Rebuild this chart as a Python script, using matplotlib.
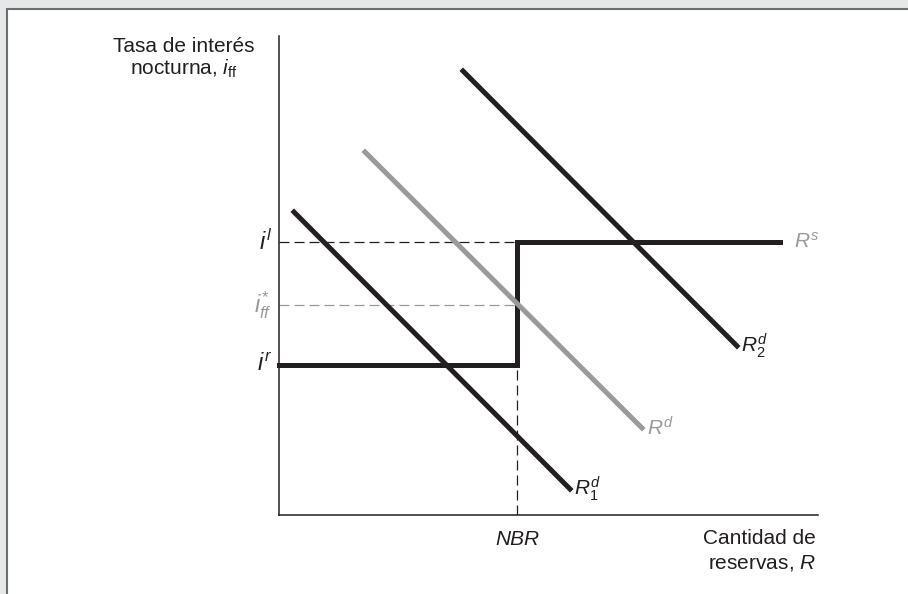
import matplotlib.pyplot as plt
from matplotlib.patches import Rectangle

plt.rcParams["font.family"] = ["Liberation Sans", "DejaVu Sans"]
plt.rcParams["mathtext.fontset"] = "custom"
plt.rcParams["mathtext.rm"] = "Liberation Sans"
plt.rcParams["mathtext.it"] = "Liberation Sans:italic"
plt.rcParams["mathtext.sf"] = "Liberation Sans"

# levels (arbitrary units)
nbr = 23.8
i_l = 27.3
i_r = 15.0
i_ff = 21.0
rs_end = 50.1

# reserve supply: step
rs_x = [0, nbr, nbr, rs_end]
rs_y = [i_r, i_r, i_l, i_l]

# demand curves (start, end)
r1_x = [1.5, 29.1]
r1_y = [30.3, 2.6]
rd_x = [8.6, 36.3]
rd_y = [36.3, 8.7]
r2_x = [18.4, 45.8]
r2_y = [44.4, 16.9]

dark = "#231f20"
grey = "#999a9c"

fig = plt.figure(figsize=(9.08, 5.94), dpi=100, facecolor="#e6e7e8")
fig.patches.append(Rectangle((7 / 908, -0.05), 1.0, 1 - 9 / 594 + 0.05,
                             transform=fig.transFigure, facecolor="white",
                             edgecolor="#6d6e71", linewidth=1.5, zorder=-1))

ax = fig.add_axes([279 / 908, 79 / 594, 539 / 908, 479 / 594])
ax.set_zorder(2)
ax.set_facecolor("none")
ax.set_xlim(0, 53.9)
ax.set_ylim(0, 47.9)
for s in ["top", "right"]:
    ax.spines[s].set_visible(False)
for s in ["left", "bottom"]:
    ax.spines[s].set_linewidth(1.1)
    ax.spines[s].set_color(dark)
ax.set_xticks([])
ax.set_yticks([])

# guide lines
dash = (0, (8, 4))
ax.plot([0, nbr], [i_l, i_l], color=dark, lw=0.9, ls=dash)
ax.plot([0, nbr], [i_ff, i_ff], color=grey, lw=0.9, ls=dash)
ax.plot([nbr, nbr], [0, i_l], color=dark, lw=0.9, ls=dash)

ax.plot(rs_x, rs_y, color=dark, lw=3.6, solid_joinstyle="miter", clip_on=False)
ax.plot(r1_x, r1_y, color=dark, lw=3.6, clip_on=False)
ax.plot(rd_x, rd_y, color=grey, lw=3.6, clip_on=False)
ax.plot(r2_x, r2_y, color=dark, lw=3.6, clip_on=False)

# curve labels
fs = 15
ax.text(r1_x[1] + 0.4, r1_y[1], r"$R^{d}_{1}$", color=dark, fontsize=fs, va="center", ha="left")
ax.text(rd_x[1] + 0.5, rd_y[1], r"$R^{d}$", color=grey, fontsize=fs, va="center", ha="left")
ax.text(r2_x[1] + 0.4, r2_y[1], r"$R^{d}_{2}$", color=dark, fontsize=fs, va="center", ha="left")
ax.text(rs_end + 1.4, i_l, r"$R^{s}$", color=grey, fontsize=fs, va="center", ha="left")

# axis level labels
ax.text(-0.7, i_l, r"$i^{l}$", color=dark, fontsize=17, va="center", ha="right")
ax.text(-0.7, i_ff, r"$i^{*}_{ff}$", color=grey, fontsize=17, va="center", ha="right")
ax.text(-0.7, i_r, r"$i^{r}$", color=dark, fontsize=17, va="center", ha="right")
ax.text(nbr, -1.5, "NBR", style="italic", color=dark, fontsize=15, va="top", ha="center")

fig.text(184 / 908, 1 - 37 / 594, "Tasa de interés\nnocturna, $i_{\\mathrm{ff}}$",
         color=dark, fontsize=15, ha="center", va="top", multialignment="center",
         linespacing=1.1)
fig.text(816 / 908, 1 - 529 / 594, "Cantidad de\nreservas, $R$",
         color=dark, fontsize=15, ha="right", va="top", multialignment="right",
         linespacing=1.3)

fig.savefig("out.png", dpi=100, facecolor=fig.get_facecolor())
